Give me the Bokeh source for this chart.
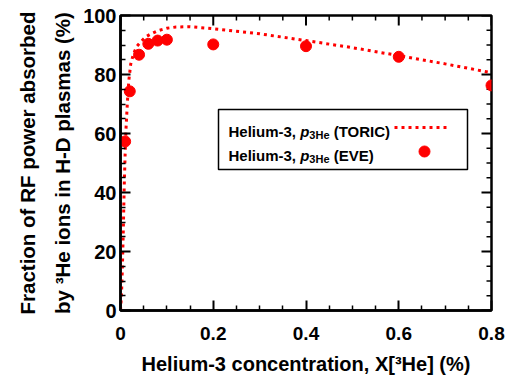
from bokeh.plotting import figure
from bokeh.models import Range1d, FixedTicker, Label, BoxAnnotation, Title
from bokeh.embed import file_html
from bokeh.resources import INLINE

# ---------------- data ----------------
conc_toric = [0, 0.002, 0.004, 0.006, 0.008, 0.010, 0.012, 0.015, 0.018, 0.022,
              0.028, 0.035, 0.045, 0.055, 0.065, 0.08, 0.10, 0.12, 0.15, 0.20,
              0.30, 0.40, 0.50, 0.60, 0.70, 0.80]
frac_toric = [0, 5, 14, 27, 42, 53, 62, 71, 78, 83.5,
              87, 89.5, 91.3, 92.8, 93.7, 94.8, 95.7, 96.1, 96.2, 95.5,
              93.8, 91.5, 89.1, 86.4, 83.6, 80.6]

conc_eve = [0.01, 0.02, 0.04, 0.06, 0.08, 0.10, 0.20, 0.40, 0.60, 0.80]
frac_eve = [57.3, 74.3, 86.7, 90.4, 91.5, 91.8, 90.2, 89.6, 86.0, 76.3]

x_ticks = [0, 0.2, 0.4, 0.6, 0.8]
x_tick_labels = ["0", "0.2", "0.4", "0.6", "0.8"]
x_minor = [0.05, 0.1, 0.15, 0.25, 0.3, 0.35, 0.45, 0.5, 0.55, 0.65, 0.7, 0.75]
y_ticks = [0, 20, 40, 60, 80, 100]
y_tick_labels = ["0", "20", "40", "60", "80", "100"]
y_minor = [5, 10, 15, 25, 30, 35, 45, 50, 55, 65, 70, 75, 85, 90, 95]

y_label_line1 = "Fraction of RF power absorbed"
y_label_line2 = "by \u00b3He ions in H-D plasmas (%)"
x_label = "Helium-3 concentration, X[\u00b3He] (%)"
legend_names = ["TORIC", "EVE"]

# ---------------- layout ----------------
W, H = 516, 379
FL, FR, FT, FB = 120, 491, 15, 310
XR = (0.0, 0.8)
YR = (0.0, 100.0)
FONT = "Liberation Sans"
RED = "#ff0000"


def dx(px):
    return XR[0] + (px - FL) / (FR - FL) * (XR[1] - XR[0])


def dy(py):
    return YR[0] + (FB - py) / (FB - FT) * (YR[1] - YR[0])


# Arial / Liberation Sans bold advance widths (1/1000 em)
ADV = {" ": 278, "(": 333, ")": 333, ",": 278, "-": 333, "%": 889, "[": 333,
       "]": 333, "3": 556, "H": 722, "e": 556, "l": 278, "i": 278, "u": 611,
       "m": 889, "c": 556, "o": 611, "n": 611, "t": 333, "r": 389, "a": 556,
       "T": 611, "O": 778, "R": 722, "I": 278, "C": 722, "E": 667, "V": 667,
       "X": 667, "p": 611}


def tw(s, size):
    return sum(ADV.get(ch, 556) for ch in s) * size / 1000.0


p = figure(width=W, height=H, output_backend="svg", toolbar_location=None,
           x_range=Range1d(*XR), y_range=Range1d(*YR),
           min_border_left=FL, min_border_right=W - FR,
           min_border_top=FT, min_border_bottom=H - FB)
p.xgrid.visible = False
p.ygrid.visible = False
p.background_fill_color = "white"
p.border_fill_color = "white"
p.outline_line_color = "black"
p.outline_line_width = 2.5

for ax, ticks, minor, labels in ((p.xaxis[0], x_ticks, x_minor, x_tick_labels),
                                 (p.yaxis[0], y_ticks, y_minor, y_tick_labels)):
    ax.ticker = FixedTicker(ticks=ticks, minor_ticks=minor)
    ax.major_label_overrides = dict(zip(ticks, labels))
    ax.axis_line_color = "black"
    ax.axis_line_width = 2.5
    ax.major_tick_in = 10
    ax.major_tick_out = 0
    ax.minor_tick_in = 5
    ax.minor_tick_out = 0
    ax.major_tick_line_width = 2
    ax.minor_tick_line_width = 1.5
    ax.major_tick_line_color = "black"
    ax.minor_tick_line_color = "black"
    ax.major_label_text_font = FONT
    ax.major_label_text_font_style = "bold"
    ax.major_label_text_color = "black"
    ax.major_label_text_font_size = "19px"
p.yaxis.major_label_text_font_size = "20px"
p.xaxis.major_label_standoff = 16
p.yaxis.major_label_standoff = 4

p.xaxis.axis_label = x_label
p.xaxis.axis_label_text_font = FONT
p.xaxis.axis_label_text_font_style = "bold"
p.xaxis.axis_label_text_font_size = "20px"
p.xaxis.axis_label_text_color = "black"
p.xaxis.axis_label_standoff = 10

# two-line y label as stacked side titles (line 2 nearest the axis)
for txt, so in ((y_label_line2, 13), (y_label_line1, 8)):
    p.add_layout(Title(text=txt, align="center", text_font=FONT,
                       text_font_style="bold", text_font_size="20.5px",
                       text_color="black", standoff=so), "left")

# mirrored ticks on top and right edges
MAJ, MIN = 10, 5
ky = (YR[1] - YR[0]) / (FB - FT)
kx = (XR[1] - XR[0]) / (FR - FL)
p.segment(x0=x_ticks, y0=[YR[1]] * len(x_ticks), x1=x_ticks,
          y1=[YR[1] - MAJ * ky] * len(x_ticks), line_color="black", line_width=2)
p.segment(x0=x_minor, y0=[YR[1]] * len(x_minor), x1=x_minor,
          y1=[YR[1] - MIN * ky] * len(x_minor), line_color="black", line_width=1.5)
p.segment(x0=[XR[1]] * len(y_ticks), y0=y_ticks, x1=[XR[1] - MAJ * kx] * len(y_ticks),
          y1=y_ticks, line_color="black", line_width=2)
p.segment(x0=[XR[1]] * len(y_minor), y0=y_minor, x1=[XR[1] - MIN * kx] * len(y_minor),
          y1=y_minor, line_color="black", line_width=1.5)

# ---------------- data marks ----------------
p.line(conc_toric, frac_toric, line_color=RED, line_width=3, line_dash="3 4")
p.scatter(conc_eve, frac_eve, size=11, marker="circle", fill_color=RED,
          line_color=RED)

# ---------------- legend ----------------
p.add_layout(BoxAnnotation(left=dx(218), right=dx(467), top=dy(109),
                           bottom=dy(169), fill_color="white", fill_alpha=1,
                           line_color="black", line_width=1.5, line_alpha=1,
                           level="underlay"))

LS = 15
SS = 11
for i, name in enumerate(legend_names):
    bl = 131 + 24 * i
    parts = [("Helium-3,", LS, "bold", 0, tw("Helium-3, ", LS)),
             ("p", LS, "bold italic", 0, tw("p", LS)),
             ("3He", SS, "bold", 3, tw("3He", SS) + tw(" ", LS)),
             (f"({name})", LS, "bold", 0, 0)]
    cx = 228
    for txt, sz, st, off, adv in parts:
        p.add_layout(Label(x=dx(cx), y=dy(bl + off), text=txt, text_font=FONT,
                           text_font_style=st, text_font_size=f"{sz}px",
                           text_color="black", text_align="left",
                           text_baseline="alphabetic"))
        cx += adv

p.line([dx(394), dx(450)], [dy(127), dy(127)], line_color=RED, line_width=3,
       line_dash="3 4")
p.scatter([dx(424)], [dy(151)], size=11, marker="circle", fill_color=RED,
          line_color=RED)

open("out.html", "w").write(file_html(p, INLINE))
